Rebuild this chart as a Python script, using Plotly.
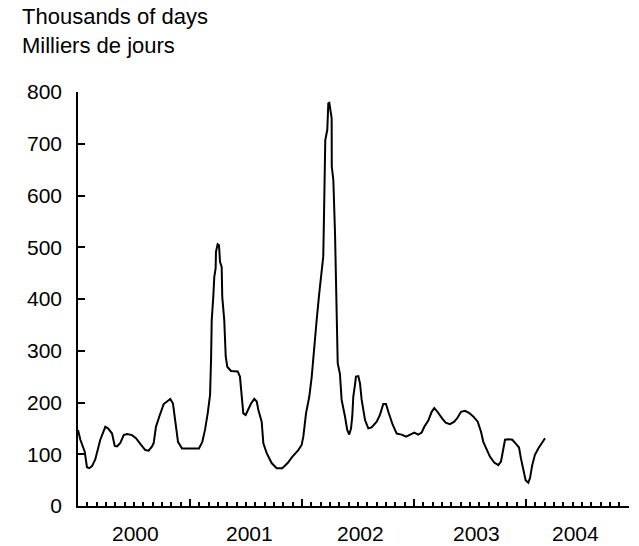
import plotly.graph_objects as go

# time in decimal years, value in thousands of days
t = [2000.000, 2000.021, 2000.060, 2000.080, 2000.101, 2000.125, 2000.154, 2000.199,
     2000.244, 2000.268, 2000.304, 2000.328, 2000.348, 2000.378, 2000.408, 2000.438,
     2000.482, 2000.518, 2000.556, 2000.601, 2000.631, 2000.661, 2000.676, 2000.696,
     2000.726, 2000.744, 2000.765, 2000.795, 2000.824, 2000.848, 2000.869, 2000.893,
     2000.929, 2001.063, 2001.080, 2001.110, 2001.134, 2001.158, 2001.170, 2001.179,
     2001.188, 2001.194, 2001.208, 2001.217, 2001.229, 2001.232, 2001.247, 2001.259,
     2001.268, 2001.283, 2001.288, 2001.306, 2001.319, 2001.333, 2001.366, 2001.426,
     2001.446, 2001.462, 2001.476, 2001.497, 2001.521, 2001.545, 2001.574, 2001.596,
     2001.610, 2001.640, 2001.655, 2001.685, 2001.729, 2001.774, 2001.824, 2001.872,
     2001.913, 2001.967, 2001.997, 2002.012, 2002.036, 2002.065, 2002.087, 2002.107,
     2002.131, 2002.154, 2002.176, 2002.190, 2002.196, 2002.205, 2002.208, 2002.226,
     2002.229, 2002.235, 2002.244, 2002.256, 2002.265, 2002.266, 2002.280, 2002.295,
     2002.310, 2002.319, 2002.339, 2002.354, 2002.384, 2002.404, 2002.422, 2002.438,
     2002.449, 2002.458, 2002.473, 2002.482, 2002.503, 2002.518, 2002.533, 2002.563,
     2002.592, 2002.622, 2002.667, 2002.696, 2002.726, 2002.750, 2002.771, 2002.810,
     2002.846, 2002.890, 2002.929, 2002.964, 2003.003, 2003.038, 2003.069, 2003.092,
     2003.128, 2003.158, 2003.181, 2003.203, 2003.226, 2003.253, 2003.283, 2003.321,
     2003.360, 2003.390, 2003.420, 2003.455, 2003.491, 2003.529, 2003.569, 2003.598,
     2003.619, 2003.649, 2003.679, 2003.717, 2003.753, 2003.777, 2003.792, 2003.813,
     2003.848, 2003.878, 2003.911, 2003.938, 2003.955, 2003.976, 2003.997, 2004.021,
     2004.036, 2004.056, 2004.080, 2004.110, 2004.146, 2004.170]

days = [147, 128, 105, 75, 73, 77, 90, 128,
        153, 150, 140, 116, 115, 122, 137, 139,
        137, 131, 120, 108, 107, 115, 122, 153,
        173, 186, 197, 202, 207, 198, 166, 124,
        111, 111, 111, 124, 147, 179, 202, 214,
        282, 359, 404, 443, 459, 491, 506, 504,
        472, 462, 404, 359, 289, 269, 261, 260,
        250, 218, 179, 176, 187, 198, 207, 202,
        186, 163, 121, 102, 83, 73, 73, 83,
        95, 108, 118, 134, 179, 211, 250, 308,
        359, 411, 462, 482, 553, 643, 707, 727,
        762, 778, 779, 759, 749, 656, 630, 527,
        372, 276, 255, 205, 173, 147, 138, 150,
        173, 211, 234, 250, 251, 237, 205, 166,
        150, 152, 163, 176, 197, 197, 182, 157,
        140, 138, 134, 138, 142, 138, 142, 153,
        165, 182, 189, 184, 176, 169, 161, 158,
        163, 171, 182, 184, 180, 173, 163, 144,
        124, 111, 95, 84, 79, 86, 105, 128,
        129, 128, 120, 113, 92, 73, 50, 45,
        54, 79, 99, 111, 122, 131]

year_labels = ["2000", "2001", "2002", "2003", "2004"]
year_label_pos = [2000.513, 2001.527, 2002.518, 2003.560, 2004.446]
year_ticks = [2000, 2001, 2002, 2003, 2004]
y_ticks = [0, 100, 200, 300, 400, 500, 600, 700, 800]

FONT = "Liberation Sans, Arial, Helvetica, sans-serif"

fig = go.Figure()
fig.add_trace(go.Scatter(x=t, y=days, mode="lines",
                         line=dict(color="black", width=2),
                         showlegend=False, hoverinfo="skip"))

fig.update_layout(
    width=639, height=546,
    margin=dict(l=78, r=10, t=92, b=40),
    paper_bgcolor="white", plot_bgcolor="white",
    font=dict(family=FONT, size=21, color="black"),
    xaxis=dict(
        range=[2000, 2004.92],
        showgrid=False, zeroline=False,
        showline=True, linecolor="black", linewidth=1.5,
        tickmode="array", tickvals=year_ticks,
        ticks="inside", ticklen=7, tickwidth=1.5, tickcolor="black",
        showticklabels=False,
        minor=dict(tick0=2000, dtick=1 / 12, ticks="inside", ticklen=4,
                   tickwidth=1.5, tickcolor="black", showgrid=False),
    ),
    yaxis=dict(
        range=[0, 800],
        showgrid=False, zeroline=False,
        showline=True, linecolor="black", linewidth=1.5,
        tickmode="array", tickvals=y_ticks,
        ticks="inside", ticklen=7, tickwidth=1.5, tickcolor="black",
        ticklabelstandoff=10,
        tickfont=dict(size=21),
    ),
)

for lab, pos in zip(year_labels, year_label_pos):
    fig.add_annotation(x=pos, xref="x", y=0, yref="paper",
                       yanchor="top", xanchor="center", yshift=-14,
                       text=lab, showarrow=False, font=dict(size=21))

fig.add_annotation(x=-0.106, xref="paper", y=1.217, yref="paper",
                   xanchor="left", yanchor="top", align="left",
                   text="Thousands of days<br>Milliers de jours",
                   showarrow=False, font=dict(size=22))

# page body has a default 8px margin; remove it so the figure sits at 0,0
fig.write_html("out.html", config={"displayModeBar": False},
               post_script="document.body.style.margin='0';")
